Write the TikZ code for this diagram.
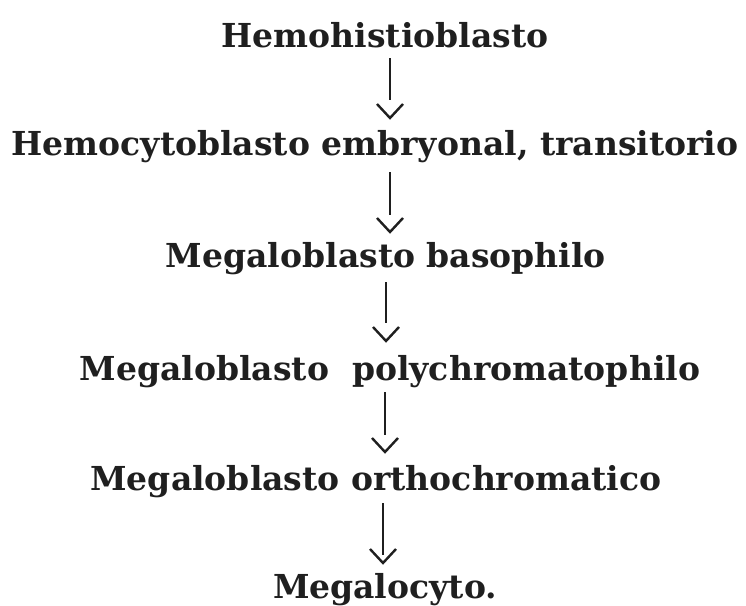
\documentclass[tikz,border=0pt]{standalone}
\usepackage{fontspec}
\setmainfont{DejaVu Serif}
\usetikzlibrary{calc}
\begin{document}
\begin{tikzpicture}[x=1pt,y=-1pt,
  lbl/.style={anchor=base,inner sep=0pt,font=\fontsize{33}{40}\selectfont\bfseries,text=black!88},
  stem/.style={line width=1.8pt,draw=black!88},
  vhead/.style={line width=2.4pt,draw=black!88,line join=miter}]
\useasboundingbox (0,0) rectangle (746,605);
\node[lbl] (n1) at (385,47) {Hemohistioblasto};
\node[lbl] (n2) at (375,155) {Hemocytoblasto\ embryonal,\ transitorio};
\node[lbl] (n3) at (386,267) {Megaloblasto\ basophilo};
\node[lbl] (n4) at (390,380) {Megaloblasto\ \ polychromatophilo};
\node[lbl] (n5) at (376,490) {Megaloblasto\ orthochromatico};
\node[lbl] (n6) at (385,598) {Megalocyto.};
\foreach \i/\x/\t/\e/\h in {1/390/58/100/118, 2/390/172/215/232, 3/386/282/323/341, 4/385/392/435/452, 5/383/503/555/563}{
  \coordinate (t\i) at (\x,\t);
  \coordinate (e\i) at (\x,\e);
  \coordinate (h\i) at (\x,\h);
  \draw[stem] (t\i) -- (e\i);
  \draw[vhead] ($(h\i)+(-13,-14)$) -- (h\i) -- ($(h\i)+(13,-14)$);
}
\end{tikzpicture}
\end{document}
